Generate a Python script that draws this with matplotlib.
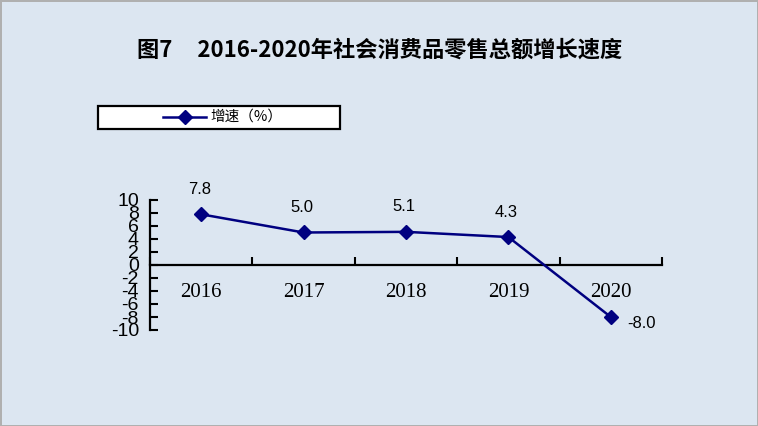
import matplotlib
matplotlib.use('Agg')
import matplotlib.pyplot as plt
from matplotlib.patches import Rectangle
from matplotlib.lines import Line2D

years = ['2016', '2017', '2018', '2019', '2020']
growth = [7.8, 5.0, 5.1, 4.3, -8.0]
yticks = list(range(-10, 11, 2))

bg = '#dce6f1'
navy = '#000080'

fig = plt.figure(figsize=(7.58, 4.26), dpi=100)
fig.patch.set_facecolor(bg)
fig.patch.set_edgecolor('#b0b0b0')
fig.patch.set_linewidth(1.0)

ax = fig.add_axes([150/758, 1 - 330/426, 512/758, 130/426])
ax.set_facecolor(bg)
x = list(range(len(years)))
ax.plot(x, growth, color=navy, lw=1.8, marker='D', ms=7, mfc=navy, mec=navy, zorder=3)

# data labels
for i, v in enumerate(growth):
    if v < 0:
        ax.annotate(f'{v:.1f}', (i, v), xytext=(31, -6), textcoords='offset pixels',
                    ha='center', va='center', fontsize=12, family='Liberation Sans')
    else:
        ax.annotate(f'{v:.1f}', (i, v), xytext=(-2, 25), textcoords='offset pixels',
                    ha='center', va='center', fontsize=12, family='Liberation Sans')

ax.set_xlim(-0.5, len(years) - 0.5)
ax.set_ylim(-10, 10)

for s in ['top', 'right']:
    ax.spines[s].set_visible(False)
ax.spines['bottom'].set_position(('data', 0))
ax.spines['left'].set_linewidth(1.6)
ax.spines['bottom'].set_linewidth(1.6)

ax.set_yticks(yticks)
ax.set_yticklabels([str(t) for t in yticks], family='Liberation Sans', fontsize=14)
ax.tick_params(axis='y', direction='in', length=6, width=1.5, pad=8)

# category boundaries as major ticks, labels on minor ticks at centres
ax.set_xticks([i - 0.5 for i in range(len(years) + 1)])
ax.set_xticklabels([])
ax.tick_params(axis='x', which='major', direction='in', length=6, width=1.5)
ax.set_xticks(x, minor=True)
ax.set_xticklabels(years, minor=True, family='Liberation Serif', fontsize=15)
ax.tick_params(axis='x', which='minor', length=0, pad=13)

# title
fig.text(380/758, 1 - 50/426, '图7     2016-2020年社会消费品零售总额增长速度',
         ha='center', va='center', fontsize=16, fontweight='bold',
         family=['Noto Sans CJK SC', 'DejaVu Sans'])

# legend box
fig.add_artist(Rectangle((98/758, 1 - 129/426), 242/758, 23/426, transform=fig.transFigure,
                         facecolor='white', edgecolor='black', lw=1.6))
fig.add_artist(Line2D([163/758, 206/758], [1 - 117/426] * 2, transform=fig.transFigure,
                      color=navy, lw=1.8))
fig.add_artist(Line2D([185/758], [1 - 117/426], transform=fig.transFigure,
                      marker='D', ms=7, color=navy))
fig.text(210/758, 1 - 117/426, '增速（%）', ha='left', va='center', fontsize=10.5,
         family=['Noto Sans CJK SC', 'DejaVu Sans'])

fig.savefig('out.png', dpi=100, facecolor=bg, edgecolor=fig.get_edgecolor())
